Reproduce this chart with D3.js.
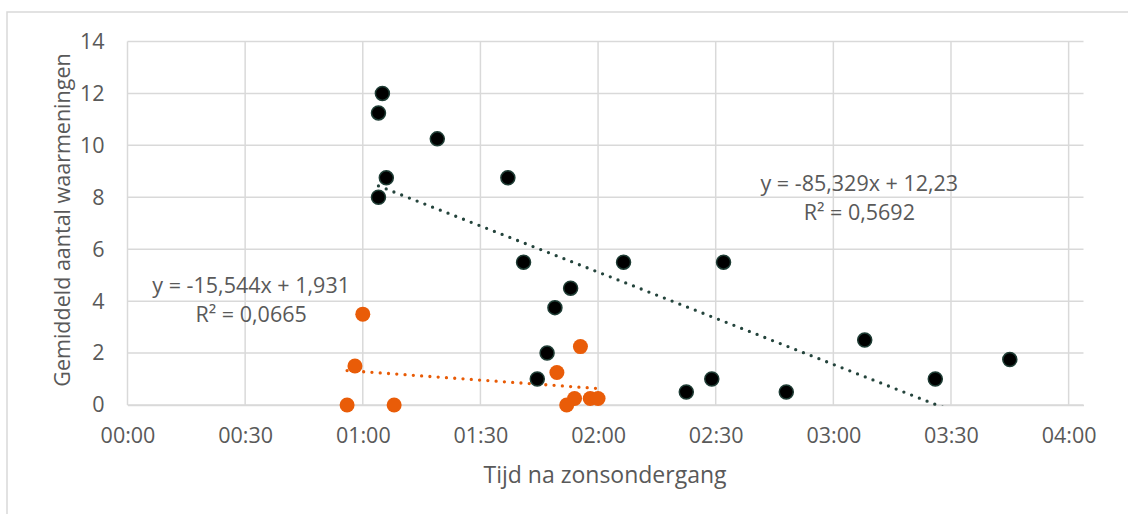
<!DOCTYPE html>
<html>
<head>
<meta charset="utf-8">
<script src="https://cdn.jsdelivr.net/npm/d3@7"></script>
<style>
  body { margin: 0; background: #fff; }
  text { font-family: "Open Sans", sans-serif; fill: #595959; }
</style>
</head>
<body>
<div id="chart"></div>
<script>
// series 1 (black) - time after sunset and mean count
const blackTimes = ["01:05", "01:04", "01:19", "01:06", "01:04", "01:37", "01:41", "02:06:30",
    "01:53", "01:49", "01:47", "01:44:30", "02:32", "03:08", "03:45", "03:26", "02:29", "02:22:30", "02:48"];
const blackValues = [12, 11.25, 10.25, 8.75, 8, 8.75, 5.5, 5.5,
    4.5, 3.75, 2, 1, 5.5, 2.5, 1.75, 1, 1, 0.5, 0.5];

// series 2 (orange)
const orangeTimes = ["01:00", "00:58", "00:56", "01:08", "01:55:30", "01:49:30", "01:54", "01:52", "01:58", "02:00"];
const orangeValues = [3.5, 1.5, 0, 0, 2.25, 1.25, 0.25, 0, 0.25, 0.25];

// trendlines as shown on the chart (x in days)
const blackTrend = {slope: -85.329, intercept: 12.23, eq: "y = -85,329x + 12,23", r2: "R² = 0,5692"};
const orangeTrend = {slope: -15.544, intercept: 1.931, eq: "y = -15,544x + 1,931", r2: "R² = 0,0665"};

const xTickLabels = ["00:00", "00:30", "01:00", "01:30", "02:00", "02:30", "03:00", "03:30", "04:00"];
const yTicks = [0, 2, 4, 6, 8, 10, 12, 14];
const xMaxDays = 0.1693;

function toDays(s) {
    const p = s.split(":").map(Number);
    return (p[0] * 60 + p[1] + (p[2] || 0) / 60) / 1440;
}

const width = 1128, height = 514;
const svg = d3.select("#chart").append("svg")
    .attr("width", width)
    .attr("height", height);

// chart area border (cropped at right/bottom like the original)
svg.append("rect")
    .attr("x", 7).attr("y", 12)
    .attr("width", 1140).attr("height", 520)
    .attr("fill", "none")
    .attr("stroke", "#d9d9d9")
    .attr("stroke-width", 1.5);

const x = d3.scaleLinear().domain([0, xMaxDays]).range([127.5, 1083.5]);
const y = d3.scaleLinear().domain([0, 14]).range([405, 41.5]);

const grid = svg.append("g").attr("class", "grid");
grid.selectAll("line.h")
    .data(yTicks)
    .enter().append("line")
    .attr("class", "h")
    .attr("x1", x(0)).attr("x2", x(xMaxDays))
    .attr("y1", function (d) {return y(d);})
    .attr("y2", function (d) {return y(d);})
    .attr("stroke", "#d9d9d9").attr("stroke-width", 1.5);

grid.selectAll("line.v")
    .data(xTickLabels)
    .enter().append("line")
    .attr("class", "v")
    .attr("x1", function (d) {return x(toDays(d));})
    .attr("x2", function (d) {return x(toDays(d));})
    .attr("y1", y(14)).attr("y2", y(0))
    .attr("stroke", "#d9d9d9").attr("stroke-width", 1.5);

// axes
const xAxis = d3.axisBottom(x)
    .tickValues(xTickLabels.map(toDays))
    .tickFormat(function (d, i) {return xTickLabels[i];})
    .tickSize(0).tickPadding(23);
svg.append("g")
    .attr("transform", "translate(0," + y(0) + ")")
    .call(xAxis)
    .call(function (g) {
        g.select(".domain").attr("stroke", "#d9d9d9").attr("stroke-width", 1.5);
        g.selectAll("text").style("font-size", "21.5px").attr("fill", "#595959")
            .style("font-family", "'Open Sans', sans-serif");
    });

const yAxis = d3.axisLeft(y).tickValues(yTicks).tickSize(0).tickPadding(23);
svg.append("g")
    .attr("transform", "translate(" + x(0) + ",0)")
    .call(yAxis)
    .call(function (g) {
        g.select(".domain").remove();
        g.selectAll("text").style("font-size", "21.5px").attr("fill", "#595959")
            .style("font-family", "'Open Sans', sans-serif");
    });

// axis titles
svg.append("text")
    .attr("x", 605).attr("y", 475).attr("dy", "0.35em")
    .attr("text-anchor", "middle")
    .style("font-size", "23px")
    .text("Tijd na zonsondergang");

svg.append("text")
    .attr("transform", "translate(62,220) rotate(-90)")
    .attr("dy", "0.35em")
    .attr("text-anchor", "middle")
    .style("font-size", "21.5px")
    .text("Gemiddeld aantal waarmeningen");

// clip for trendlines
svg.append("clipPath").attr("id", "plotclip")
    .append("rect")
    .attr("x", x(0)).attr("y", y(14))
    .attr("width", x(xMaxDays) - x(0)).attr("height", y(0) - y(14) + 1);

const series = [
    {times: blackTimes, values: blackValues, trend: blackTrend, color: "#24443c",
        fill: "#000000", stroke: "#1f3d35", r: 7, label: [0.1296, 8.55]},
    {times: orangeTimes, values: orangeValues, trend: orangeTrend, color: "#e85b06",
        fill: "#e95c08", stroke: "none", r: 7.5, label: [0.0219, 4.62]}
];

series.forEach(function (s) {
    const xs = s.times.map(toDays);
    const x0 = d3.min(xs), x1 = d3.max(xs);
    svg.append("line")
        .attr("clip-path", "url(#plotclip)")
        .attr("x1", x(x0)).attr("y1", y(s.trend.intercept + s.trend.slope * x0))
        .attr("x2", x(x1)).attr("y2", y(s.trend.intercept + s.trend.slope * x1))
        .attr("stroke", s.color)
        .attr("stroke-width", 3.3)
        .attr("stroke-linecap", "round")
        .attr("stroke-dasharray", "0 8.3");
});

series.forEach(function (s) {
    const pts = s.times.map(function (t, i) {return {x: toDays(t), y: s.values[i]};});
    svg.append("g").selectAll("circle")
        .data(pts)
        .enter().append("circle")
        .attr("cx", function (d) {return x(d.x);})
        .attr("cy", function (d) {return y(d.y);})
        .attr("r", s.r)
        .attr("fill", s.fill)
        .attr("stroke", s.stroke)
        .attr("stroke-width", 1.5);
});

// trendline labels
series.forEach(function (s) {
    const g = svg.append("g").attr("text-anchor", "middle").style("font-size", "21.5px");
    g.append("text")
        .attr("x", x(s.label[0])).attr("y", y(s.label[1])).attr("dy", "0.35em")
        .text(s.trend.eq);
    g.append("text")
        .attr("x", x(s.label[0])).attr("y", y(s.label[1]) + 29).attr("dy", "0.35em")
        .text(s.trend.r2);
});
</script>
</body>
</html>
